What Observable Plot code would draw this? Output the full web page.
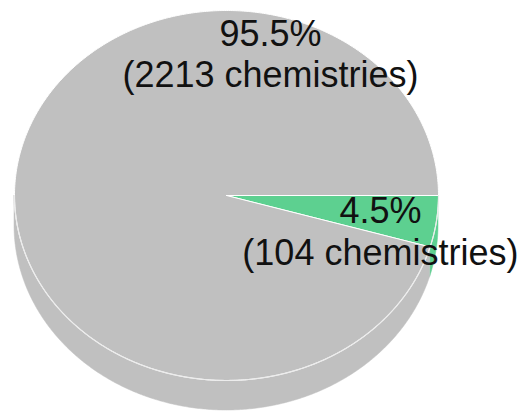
<!DOCTYPE html>
<html><head><meta charset="utf-8">
<script src="https://cdn.jsdelivr.net/npm/d3@7"></script>
<script src="https://cdn.jsdelivr.net/npm/@observablehq/plot@0.6"></script>
<style>html,body{margin:0;padding:0;background:#fff}</style>
</head><body><div id="chart"></div>
<script>
// ---- data ----
const categories = ["Other", "Selected"];
const counts = [2213, 104];
const percentLabels = ["95.5%", "4.5%"];
const unitLabel = "chemistries";
const sliceColors = ["#c0c0c0", "#5dd090"];

// ---- layout (pixels) ----
const W = 528, H = 414, cx = 226, cy = 195, rx = 212, ry = 185, depthPx = 30;
const depth = depthPx / ry;
// label anchors in unit-circle coordinates (pie radius = 1)
const labelX = [0.2075, 0.726];
const labelY = [0.77, -0.19];

const total = d3.sum(counts);
const drawOrder = [1, 0]; // small slice starts at 3 o'clock, clockwise
let acc = 0;
const slices = drawOrder.map(i => {
  const span = counts[i] / total * 2 * Math.PI;
  const s = {i, a0: acc, a1: acc + span};
  acc += span;
  return s;
});

function arcPts(a0, a1) {
  const steps = Math.max(2, Math.ceil((a1 - a0) / (Math.PI / 360)));
  const pts = [];
  for (let k = 0; k <= steps; k++) {
    const t = a0 + (a1 - a0) * k / steps;
    pts.push([Math.cos(t), -Math.sin(t)]);
  }
  return pts;
}

const sideMarks = [];
const topMarks = [];
for (const s of slices) {
  const b0 = Math.max(s.a0, 0), b1 = Math.min(s.a1, Math.PI);
  if (b1 > b0) {
    const side = arcPts(b0, b1).map(([x, y]) => ({x, y1: y, y2: y - depth}));
    sideMarks.push(Plot.areaY(side, {x: "x", y1: "y1", y2: "y2", fill: sliceColors[s.i], stroke: sliceColors[s.i], strokeWidth: 0.5}));
  }
  const top = [{x: 0, y: 0}, ...arcPts(s.a0, s.a1).map(([x, y]) => ({x, y})), {x: 0, y: 0}];
  topMarks.push(Plot.line(top, {x: "x", y: "y", fill: sliceColors[s.i], stroke: "#ffffff", strokeWidth: 1, curve: "linear"}));
}
const rim = arcPts(0, Math.PI).map(([x, y]) => ({x, y}));

const labels = categories.map((c, i) => ({
  text: percentLabels[i] + "\n(" + counts[i] + " " + unitLabel + ")",
  x: labelX[i], y: labelY[i]
}));

const chart = Plot.plot({
  width: W, height: H, margin: 0,
  x: {domain: [-cx / rx, (W - cx) / rx], axis: null},
  y: {domain: [-(H - cy) / ry, cy / ry], axis: null},
  style: {background: "#fff"},
  marks: [
    ...sideMarks,
    ...topMarks,
    Plot.line(rim, {x: "x", y: "y", stroke: "#ececec", strokeWidth: 1.2}),
    Plot.text(labels, {x: "x", y: "y", text: "text", fontSize: 36, lineHeight: 1.15,
      fontFamily: "Liberation Sans, Arial, sans-serif", fill: "#111", textAnchor: "middle"})
  ]
});
document.getElementById("chart").appendChild(chart);
</script>
</body></html>
